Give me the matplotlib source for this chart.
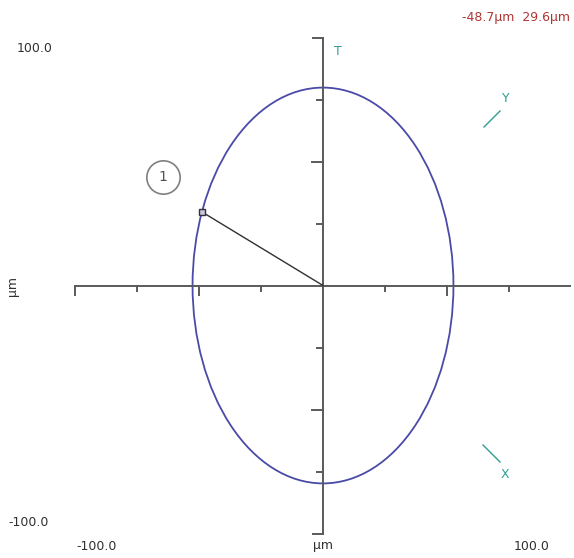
import numpy as np
import matplotlib
matplotlib.use('Agg')
from matplotlib import pyplot as plt
from matplotlib.patches import Ellipse

# Orbit fit (µm)
center = (0.0, 0.0)
semi_x = 52.6
semi_y = 79.8

# Picked point on the orbit (µm)
point_x = -48.7
point_y = 29.6

# Axis range and tick spacing (µm)
axis_range = 100.0
tick_values = [-75, -50, -25, 25, 50, 75]
long_ticks = [-50, 50]

range_labels = ['-100.0', '100.0']
unit = 'µm'

grey = '#5a5a5a'
orbit_col = '#4a4aa8'
probe_col = '#2f9e92'
readout_col = '#b03434'

fig = plt.figure(figsize=(5.74, 5.58), dpi=100)
ax = fig.add_axes([0, 0, 1, 1])
px = 2.48  # pixels per µm
ax.set_xlim(-323 / px, (574 - 323) / px)
ax.set_ylim(-(558 - 285.5) / px, 285.5 / px)
ax.axis('off')

# main cross
ax.plot([-axis_range, axis_range], [0, 0], color=grey, lw=1.4, solid_capstyle='butt')
ax.plot([0, 0], [-axis_range, axis_range], color=grey, lw=1.4, solid_capstyle='butt')

short_len = 5 / px
long_len = 9 / px
for t in tick_values:
    ln = long_len if t in long_ticks else short_len
    ax.plot([t, t], [0, -ln], color=grey, lw=1.4)
    ax.plot([0, -ln * 1.2], [t, t], color=grey, lw=1.4)

# axis end caps
ax.plot([-axis_range, -axis_range], [0, -long_len], color=grey, lw=1.4)
ax.plot([0, -long_len * 1.1], [axis_range, axis_range], color=grey, lw=1.4)
ax.plot([0, -long_len * 1.1], [-axis_range, -axis_range], color=grey, lw=1.4)

# orbit
ax.add_patch(Ellipse(center, 2 * semi_x, 2 * semi_y, fill=False,
                     edgecolor=orbit_col, lw=1.3))

# vector to picked point
ax.plot([0, point_x], [0, point_y], color='#303030', lw=1.0)
ax.plot(point_x, point_y, marker='s', ms=5, mfc='#c8c8d8', mec='#303040', mew=1.0)

# point id bubble
ax.plot(-64.5, 43.9, marker='o', ms=24, mfc='white', mec='#808080', mew=1.2)
ax.text(-64.5, 43.9, '1', ha='center', va='center', fontsize=10, color='#505050')

# probe directions
ax.text(6.0, 94.5, 'T', color=probe_col, fontsize=9, ha='center', va='center')
ax.plot([(484 - 323) / px, (500 - 323) / px],
        [(285.5 - 127) / px, (285.5 - 111) / px], color=probe_col, lw=1.0)
ax.text((506 - 323) / px, (285.5 - 98) / px, 'Y', color=probe_col, fontsize=9,
        ha='center', va='center')
ax.plot([(483 - 323) / px, (500 - 323) / px],
        [(285.5 - 445) / px, (285.5 - 462) / px], color=probe_col, lw=1.0)
ax.text((505 - 323) / px, (285.5 - 474) / px, 'X', color=probe_col, fontsize=9,
        ha='center', va='center')

# readout
ax.text(570 / px - 323 / px, (285.5 - 18) / px,
        f'{point_x:.1f}{unit}  {point_y:.1f}{unit}',
        color=readout_col, fontsize=9, ha='right', va='center')

# range labels
tf = dict(color='#303030', fontsize=9, va='center')
ax.text((17 - 323) / px, (285.5 - 48) / px, range_labels[1], ha='left', **tf)
ax.text((8 - 323) / px, (285.5 - 523) / px, range_labels[0], ha='left', **tf)
ax.text((97 - 323) / px, (285.5 - 546) / px, range_labels[0], ha='center', **tf)
ax.text(0, (285.5 - 546) / px, unit, ha='center', **tf)
ax.text((532 - 323) / px, (285.5 - 546) / px, range_labels[1], ha='center', **tf)
ax.text((13 - 323) / px, 0, unit, ha='center', rotation=90, **tf)

fig.savefig('out.png', dpi=100)
